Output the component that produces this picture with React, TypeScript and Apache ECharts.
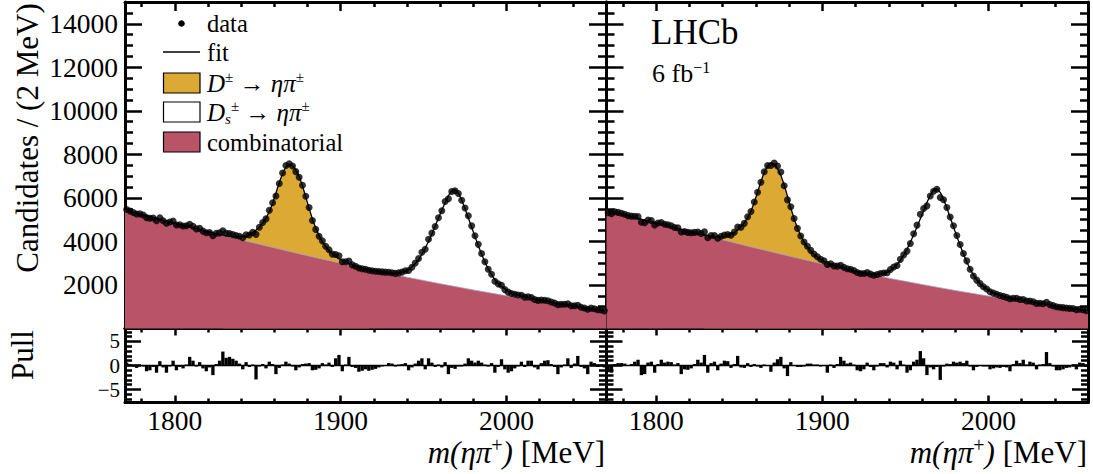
import React, { useEffect, useRef } from "react";
import * as echarts from "echarts";

// ---------- binning / axis ranges ----------
const BIN_LO = 1770;
const BIN_W = 2;
const X_MIN = 1770;
const X_MAX = 2060;
const Y_MAX = 15000;
const PULL_LIM = 7.7;
const D_REGION = [1829, 1917];

// ---------- tick values ----------
const xMajorTicks = [1800, 1900, 2000];
const xMinorTicks = [1780, 1820, 1840, 1860, 1880, 1920, 1940, 1960, 1980, 2020, 2040];
const yMajorTicks = [2000, 4000, 6000, 8000, 10000, 12000, 14000];
const yMinorTicks = [500, 1000, 1500, 2500, 3000, 3500, 4500, 5000, 5500, 6500, 7000, 7500, 8500, 9000, 9500,
  10500, 11000, 11500, 12500, 13000, 13500, 14500];
const pullMajorTicks = [-5, 0, 5];
const pullMinorTicks = [-7, -6, -4, -3, -2, -1, 1, 2, 3, 4, 6, 7];
const pullLabelsOuter = [-5, 5];
const pullLabelsZero = [0];

// ---------- combinatorial background (10 MeV grid) ----------
const bgMass = [1770, 1780, 1790, 1800, 1810, 1820, 1830, 1840, 1850, 1860, 1870, 1880, 1890, 1900, 1910,
  1920, 1930, 1940, 1950, 1960, 1970, 1980, 1990, 2000, 2010, 2020, 2030, 2040, 2050, 2060];
const bgLeft = [5440, 5240, 5040, 4845, 4650, 4455, 4262, 4075, 3890, 3705, 3524, 3346, 3172, 3002, 2836,
  2673, 2514, 2359, 2207, 2059, 1914, 1774, 1637, 1503, 1374, 1248, 1125, 1006, 891, 780];
const bgRight = [5440, 5240, 5040, 4845, 4650, 4455, 4262, 4072, 3884, 3695, 3510, 3328, 3148, 2970, 2796,
  2627, 2466, 2313, 2166, 2024, 1885, 1750, 1618, 1490, 1365, 1243, 1123, 1006, 891, 780];

// ---------- left panel (2 MeV bins, 1770-2060) ----------
const fitLeft = [
  5420, 5380, 5340, 5300, 5260, 5220, 5180, 5140, 5100, 5060,
  5020, 4982, 4943, 4904, 4865, 4826, 4787, 4748, 4709, 4670,
  4630, 4592, 4553, 4514, 4475, 4436, 4397, 4358, 4328, 4296,
  4268, 4243, 4223, 4211, 4209, 4224, 4257, 4315, 4403, 4520,
  4669, 4852, 5079, 5370, 5758, 6227, 6706, 7124, 7418, 7537,
  7481, 7291, 6985, 6560, 6044, 5519, 5029, 4614, 4274, 3994,
  3767, 3584, 3435, 3313, 3214, 3131, 3058, 2996, 2940, 2890,
  2845, 2803, 2764, 2731, 2697, 2667, 2638, 2611, 2584, 2560,
  2543, 2537, 2546, 2575, 2624, 2714, 2834, 2983, 3163, 3412,
  3687, 4003, 4343, 4704, 5074, 5435, 5781, 6102, 6333, 6384,
  6220, 5902, 5504, 5076, 4648, 4220, 3803, 3411, 3053, 2736,
  2464, 2242, 2065, 1928, 1821, 1733, 1659, 1598, 1545, 1497,
  1453, 1416, 1383, 1351, 1321, 1292, 1264, 1236, 1210, 1183,
  1157, 1131, 1106, 1082, 1057, 1032, 1008, 984, 960, 936,
  913, 890, 867, 843, 821,
];
const dataLeft = [
  5464, 5402, 5325, 5264, 5267, 5213, 5094, 5068, 5079, 4953,
  5084, 4954, 4838, 4890, 4935, 4757, 4766, 4707, 4723, 4793,
  4698, 4578, 4600, 4474, 4395, 4409, 4264, 4378, 4394, 4486,
  4372, 4360, 4314, 4276, 4235, 4172, 4303, 4295, 4416, 4325,
  4655, 4873, 5036, 5429, 5781, 6085, 6665, 7141, 7487, 7572,
  7464, 7206, 6952, 6584, 6075, 5556, 4958, 4553, 4235, 4026,
  3779, 3620, 3417, 3399, 3339, 3064, 3069, 3094, 2924, 2863,
  2776, 2745, 2722, 2673, 2650, 2631, 2617, 2601, 2589, 2585,
  2563, 2532, 2556, 2590, 2650, 2662, 2813, 3005, 3219, 3500,
  3638, 4098, 4383, 4683, 5088, 5406, 5834, 5961, 6293, 6328,
  6204, 5894, 5534, 5183, 4716, 4259, 3865, 3446, 3064, 2726,
  2489, 2171, 2051, 1985, 1787, 1671, 1610, 1574, 1537, 1528,
  1442, 1454, 1420, 1336, 1292, 1310, 1300, 1275, 1220, 1173,
  1096, 1118, 1113, 1131, 1041, 1045, 1071, 975, 941, 881,
  937, 905, 858, 849, 810,
];
const pullLeft = [
  0.6, 0.3, -0.2, -0.5, 0.1, -0.1, -1.2, -1.0, -0.3, -1.5,
  0.9, -0.4, -1.5, -0.2, 1.0, -1.0, -0.3, -0.6, 0.2, 1.8,
  1.0, -0.2, 0.7, -0.6, -1.2, -0.4, -2.0, 0.3, 1.0, 2.9,
  1.6, 1.8, 1.4, 1.0, 0.4, -0.8, 0.7, -0.3, 0.2, -2.9,
  -0.2, 0.3, -0.6, 0.8, 0.3, -1.8, -0.5, 0.2, 0.8, 0.4,
  -0.2, -1.0, -0.4, 0.3, 0.4, 0.5, -1.0, -0.9, -0.6, 0.5,
  0.2, 0.6, -0.3, 1.5, 2.2, -1.2, 0.2, 1.8, -0.3, -0.5,
  -1.3, -1.1, -0.8, -1.1, -0.9, -0.7, -0.4, -0.2, 0.1, 0.5,
  0.4, -0.1, 0.2, 0.3, 0.5, -1.0, -0.4, 0.4, 1.0, 1.5,
  -0.8, 1.5, 0.6, -0.3, 0.2, -0.4, 0.7, -1.8, -0.5, -0.7,
  -0.2, -0.1, 0.4, 1.5, 1.0, 0.6, 1.0, 0.6, 0.2, -0.2,
  0.5, -1.5, -0.3, 1.3, -0.8, -1.5, -1.2, -0.6, -0.2, 0.8,
  -0.3, 1.0, 1.0, -0.4, -0.8, 0.5, 1.0, 1.1, 0.3, -0.3,
  -1.8, -0.4, 0.2, 1.5, -0.5, 0.4, 2.0, -0.3, -0.6, -1.8,
  0.8, 0.5, -0.3, 0.2, -0.4,
];

// ---------- right panel ----------
const fitRight = [
  5420, 5380, 5340, 5300, 5260, 5220, 5180, 5140, 5100, 5060,
  5020, 4982, 4943, 4904, 4865, 4826, 4787, 4748, 4709, 4670,
  4630, 4592, 4553, 4514, 4475, 4436, 4397, 4358, 4328, 4296,
  4268, 4242, 4222, 4211, 4208, 4224, 4258, 4318, 4407, 4526,
  4679, 4865, 5097, 5393, 5789, 6268, 6756, 7182, 7482, 7603,
  7547, 7352, 7040, 6606, 6080, 5544, 5044, 4620, 4273, 3987,
  3754, 3566, 3414, 3288, 3187, 3101, 3025, 2962, 2903, 2851,
  2804, 2761, 2721, 2687, 2652, 2621, 2591, 2564, 2536, 2512,
  2495, 2490, 2499, 2528, 2578, 2669, 2790, 2940, 3121, 3371,
  3647, 3964, 4305, 4667, 5038, 5400, 5787, 6115, 6367, 6421,
  6256, 5934, 5532, 5099, 4666, 4233, 3811, 3415, 3053, 2732,
  2459, 2235, 2056, 1919, 1812, 1721, 1648, 1588, 1536, 1488,
  1445, 1409, 1377, 1346, 1316, 1288, 1260, 1233, 1208, 1181,
  1156, 1131, 1106, 1082, 1057, 1032, 1008, 984, 960, 936,
  913, 890, 867, 843, 821,
];
const dataRight = [
  5317, 5270, 5362, 5336, 5296, 5249, 5187, 5162, 5157, 5145,
  4878, 4855, 4985, 4960, 4760, 4847, 4870, 4789, 4764, 4718,
  4644, 4626, 4432, 4460, 4415, 4396, 4417, 4437, 4367, 4440,
  4170, 4275, 4274, 4146, 4234, 4289, 4317, 4285, 4427, 4661,
  4652, 4830, 5133, 5371, 5812, 6260, 6715, 7199, 7491, 7490,
  7599, 7463, 7191, 6557, 5908, 5596, 5051, 4600, 4253, 3974,
  3779, 3590, 3426, 3299, 3181, 3107, 2943, 2973, 2876, 2867,
  2899, 2814, 2742, 2718, 2662, 2570, 2530, 2524, 2566, 2497,
  2445, 2480, 2524, 2553, 2558, 2710, 2822, 2897, 3177, 3383,
  3556, 3901, 4357, 4749, 5251, 5510, 5635, 6084, 6303, 6397,
  6019, 5919, 5562, 5120, 4721, 4272, 3860, 3444, 3108, 2722,
  2409, 2221, 2061, 1915, 1812, 1688, 1624, 1572, 1516, 1476,
  1430, 1364, 1388, 1383, 1334, 1331, 1267, 1261, 1229, 1154,
  1163, 1141, 1199, 1098, 1050, 1000, 976, 959, 945, 924,
  919, 866, 885, 858, 812,
];
const pullRight = [
  -1.4, -1.5, 0.3, 0.5, 0.5, 0.4, 0.1, 0.3, 0.8, 1.2,
  -2.0, -1.8, 0.6, 0.8, -1.5, 0.3, 1.2, 0.6, 0.8, 0.7,
  0.2, 0.5, -1.8, -0.8, -0.9, -0.6, 0.3, 1.2, 0.6, 2.2,
  -1.5, 0.5, 0.8, -1.0, 0.4, 1.0, 0.9, -0.5, 0.3, 2.0,
  -0.4, -0.5, 0.5, -0.3, 0.3, -0.1, -0.5, 0.2, 0.1, -1.3,
  0.6, 1.3, 1.8, -0.6, -2.2, 0.7, 0.1, -0.3, -0.3, -0.2,
  0.4, 0.4, 0.2, 0.2, -0.1, 0.1, -1.5, 0.2, -0.5, 0.3,
  1.8, 1.0, 0.4, 0.6, 0.2, -1.0, -1.2, -0.8, 0.6, -0.3,
  -1.0, -0.2, 0.5, 0.5, -0.4, 0.8, 0.6, -0.8, 1.0, 0.2,
  -1.5, -1.0, 0.8, 1.2, 3.0, 1.5, -2.0, -0.4, -0.8, -0.3,
  -3.0, -0.2, 0.4, 0.3, 0.8, 0.6, 0.8, 0.5, 1.0, -0.2,
  -1.0, -0.3, 0.1, -0.1, 0.0, -0.8, -0.6, -0.4, -0.5, -0.3,
  -0.4, -1.2, 0.3, 1.0, 0.5, 1.2, 0.2, 0.8, 0.6, -0.8,
  0.2, 0.3, 2.8, 0.5, -0.2, -1.0, -1.0, -0.8, -0.5, -0.4,
  0.2, -0.8, 0.6, 0.5, -0.3,
];

// ---------- styling ----------
const FONT = "'Liberation Serif', 'Times New Roman', 'DejaVu Serif', serif";
const YELLOW = "#dba934";
const RED = "#b95368";
const LINE_W = 3;
const TICK_W = 2.5;

const minus = (v: number) => (v < 0 ? "\u2212" + Math.abs(v) : String(v));

function xAx(grid: number, position: string, ticks: number[], len: number, line: boolean, labels?: number[]): any {
  return {
    type: "value", gridIndex: grid, position, min: X_MIN, max: X_MAX,
    axisLine: { show: line, onZero: false, lineStyle: { color: "#000", width: LINE_W } },
    axisTick: { show: true, inside: true, length: len, customValues: ticks, lineStyle: { color: "#000", width: TICK_W } },
    axisLabel: labels
      ? { show: true, customValues: labels, showMinLabel: true, showMaxLabel: true, hideOverlap: false,
          formatter: (v: number) => String(v), color: "#000", fontFamily: FONT, fontSize: 27.5, margin: 4 }
      : { show: false },
    splitLine: { show: false },
  };
}

function yAx(grid: number, position: string, min: number, max: number, ticks: number[], len: number, line: boolean,
  labels?: number[], margin = 7, fontSize = 27.5): any {
  return {
    type: "value", gridIndex: grid, position, min, max,
    axisLine: { show: line, onZero: false, lineStyle: { color: "#000", width: LINE_W } },
    axisTick: { show: true, inside: true, length: len, customValues: ticks, lineStyle: { color: "#000", width: TICK_W } },
    axisLabel: labels
      ? { show: true, customValues: labels, showMinLabel: true, showMaxLabel: true, hideOverlap: false,
          formatter: minus, color: "#000", fontFamily: FONT, fontSize, lineHeight: Math.min(fontSize, 20), margin }
      : { show: false },
    splitLine: { show: false },
  };
}

function buildOption() {
  const grids = [
    { left: 125, top: 2, width: 481, height: 326.5 },
    { left: 125, top: 328.5, width: 481, height: 74 },
    { left: 606.5, top: 2, width: 481.5, height: 326.5 },
    { left: 606.5, top: 328.5, width: 481.5, height: 74 },
  ].map((g) => ({ ...g, containLabel: false, outerBoundsMode: "none", show: false }));

  const xAxes: any[] = [];
  const yAxes: any[] = [];
  const series: any[] = [];
  const panels = [
    { fit: fitLeft, data: dataLeft, pull: pullLeft, bg: bgLeft },
    { fit: fitRight, data: dataRight, pull: pullRight, bg: bgRight },
  ];

  panels.forEach((pn, p) => {
    const gm = 2 * p;
    const gp = 2 * p + 1;
    const first = p === 0;
    const mainX = xAxes.length;
    xAxes.push(xAx(gm, "bottom", xMajorTicks, 9, true));
    xAxes.push(xAx(gm, "bottom", xMinorTicks, 5, false));
    xAxes.push(xAx(gm, "top", xMajorTicks, 9, true));
    xAxes.push(xAx(gm, "top", xMinorTicks, 5, false));
    const mainY = yAxes.length;
    yAxes.push(yAx(gm, "left", 0, Y_MAX, yMajorTicks, 17, true, first ? yMajorTicks : undefined, 7));
    yAxes.push(yAx(gm, "left", 0, Y_MAX, yMinorTicks, 8, false));
    yAxes.push(yAx(gm, "right", 0, Y_MAX, yMajorTicks, 17, true));
    yAxes.push(yAx(gm, "right", 0, Y_MAX, yMinorTicks, 8, false));
    const pullX = xAxes.length;
    xAxes.push(xAx(gp, "bottom", xMajorTicks, 7, true, xMajorTicks));
    xAxes.push(xAx(gp, "bottom", xMinorTicks, 4, false));
    xAxes.push(xAx(gp, "top", xMajorTicks, 7, true));
    xAxes.push(xAx(gp, "top", xMinorTicks, 4, false));
    const pullY = yAxes.length;
    yAxes.push(yAx(gp, "left", -PULL_LIM, PULL_LIM, pullMajorTicks, 16, true, first ? pullLabelsZero : undefined, 5, 21));
    yAxes.push(yAx(gp, "left", -PULL_LIM, PULL_LIM, pullMinorTicks, 7, false, first ? pullLabelsOuter : undefined, 5, 21));
    yAxes.push(yAx(gp, "right", -PULL_LIM, PULL_LIM, pullMajorTicks, 16, true));
    yAxes.push(yAx(gp, "right", -PULL_LIM, PULL_LIM, pullMinorTicks, 7, false));

    const centres = pn.fit.map((_, i) => BIN_LO + BIN_W * (i + 0.5));
    const fitPts = centres.map((x, i) => [x, pn.fit[i]]);

    series.push({
      type: "line", xAxisIndex: mainX, yAxisIndex: mainY, silent: true, z: 1,
      data: fitPts.filter(([x]) => x >= D_REGION[0] && x <= D_REGION[1]),
      symbol: "none", lineStyle: { width: 0, color: YELLOW }, areaStyle: { color: YELLOW, opacity: 1 },
    });
    series.push({
      type: "line", xAxisIndex: mainX, yAxisIndex: mainY, silent: true, z: 2,
      data: bgMass.map((m, i) => [m, pn.bg[i]]),
      symbol: "none", lineStyle: { width: 0.8, color: "#a4a4c4" }, areaStyle: { color: RED, opacity: 1 },
    });
    series.push({
      type: "line", xAxisIndex: mainX, yAxisIndex: mainY, silent: true, z: 3,
      data: fitPts, symbol: "none", lineStyle: { width: 1.3, color: "#000" },
    });
    series.push({
      type: "scatter", xAxisIndex: mainX, yAxisIndex: mainY, silent: true, z: 4,
      data: centres.map((x, i) => [x, pn.data[i]]),
      symbol: "circle", symbolSize: 7, itemStyle: { color: "#000" },
    });
    series.push({
      type: "line", xAxisIndex: pullX, yAxisIndex: pullY, silent: true, z: 2,
      data: [[X_MIN, 0], [X_MAX, 0]], symbol: "none", lineStyle: { width: 1.5, color: "#000" },
    });
    series.push({
      type: "custom", xAxisIndex: pullX, yAxisIndex: pullY, silent: true, z: 3,
      data: centres.map((x, i) => [x, pn.pull[i]]),
      renderItem: (params: any, api: any) => {
        const x = api.value(0);
        const v = api.value(1);
        const a = api.coord([x - BIN_W / 2, 0]);
        const b = api.coord([x + BIN_W / 2, v]);
        return {
          type: "rect",
          shape: { x: a[0], y: Math.min(a[1], b[1]), width: b[0] - a[0], height: Math.max(Math.abs(b[1] - a[1]), 1) },
          style: { fill: "#000" },
        };
      },
    });
  });

  const base = { fontFamily: FONT, fill: "#000" };
  const legRich = {
    n: { fontFamily: FONT, fontSize: 25, lineHeight: 28, fill: "#000" },
    i: { fontFamily: FONT, fontSize: 25, lineHeight: 28, fontStyle: "italic", fill: "#000" },
    sup: { fontFamily: FONT, fontSize: 15, lineHeight: 15, verticalAlign: "top", fill: "#000" },
    sub: { fontFamily: FONT, fontSize: 15, lineHeight: 15, verticalAlign: "bottom", fontStyle: "italic", fill: "#000" },
  };
  const titleRich = {
    n: { fontFamily: FONT, fontSize: 31, lineHeight: 34, fill: "#000" },
    i: { fontFamily: FONT, fontSize: 31, lineHeight: 34, fontStyle: "italic", fill: "#000" },
    sup: { fontFamily: FONT, fontSize: 20, lineHeight: 20, verticalAlign: "top", fill: "#000" },
  };
  const xTitle = "{i|m(\u03b7\u03c0}{sup|+}{i|)}{n| [MeV]}";

  const graphic: any[] = [
    { type: "text", x: 27, y: 138, rotation: Math.PI / 2,
      style: { ...base, text: "Candidates / (2 MeV)", fontSize: 31, align: "center", verticalAlign: "middle" } },
    { type: "text", x: 22, y: 355, rotation: Math.PI / 2,
      style: { ...base, text: "Pull", fontSize: 31, align: "center", verticalAlign: "middle" } },
    { type: "text", x: 605, y: 452, style: { ...base, text: xTitle, rich: titleRich, align: "right", verticalAlign: "middle" } },
    { type: "text", x: 1087, y: 452, style: { ...base, text: xTitle, rich: titleRich, align: "right", verticalAlign: "middle" } },
    { type: "text", x: 651, y: 32, style: { ...base, text: "LHCb", fontSize: 35, align: "left", verticalAlign: "middle" } },
    { type: "text", x: 652, y: 73,
      style: { ...base, text: "{n|6 fb}{sup|\u22121}", align: "left", verticalAlign: "middle",
        rich: { n: { fontFamily: FONT, fontSize: 26, lineHeight: 28, fill: "#000" },
                sup: { fontFamily: FONT, fontSize: 16, lineHeight: 16, verticalAlign: "top", fill: "#000" } } } },
    { type: "circle", shape: { cx: 181.5, cy: 23.5, r: 3.3 }, style: { fill: "#000" } },
    { type: "text", x: 207, y: 23.5, style: { ...base, text: "data", fontSize: 24.5, align: "left", verticalAlign: "middle" } },
    { type: "line", shape: { x1: 163, y1: 52, x2: 200, y2: 52 }, style: { stroke: "#000", lineWidth: 1.3 } },
    { type: "text", x: 207, y: 52, style: { ...base, text: "fit", fontSize: 24.5, align: "left", verticalAlign: "middle" } },
    { type: "rect", shape: { x: 163.5, y: 73, width: 36.5, height: 20 }, style: { fill: YELLOW, stroke: "#000", lineWidth: 1.2 } },
    { type: "text", x: 207, y: 83,
      style: { ...base, text: "{i|D}{sup|\u00b1}{n| \u2192 }{i|\u03b7\u03c0}{sup|\u00b1}", rich: legRich, align: "left", verticalAlign: "middle" } },
    { type: "rect", shape: { x: 163.5, y: 102, width: 36.5, height: 20 }, style: { fill: "#fff", stroke: "#000", lineWidth: 1.2 } },
    { type: "text", x: 207, y: 112,
      style: { ...base, text: "{i|D}{sub|s}{sup|\u00b1}{n| \u2192 }{i|\u03b7\u03c0}{sup|\u00b1}", rich: legRich, align: "left", verticalAlign: "middle" } },
    { type: "rect", shape: { x: 163.5, y: 132, width: 36.5, height: 20 }, style: { fill: RED, stroke: "#000", lineWidth: 1.2 } },
    { type: "text", x: 207, y: 142, style: { ...base, text: "combinatorial", fontSize: 24.5, align: "left", verticalAlign: "middle" } },
  ];

  return {
    animation: false,
    backgroundColor: "#fff",
    textStyle: { fontFamily: FONT },
    grid: grids,
    xAxis: xAxes,
    yAxis: yAxes,
    series,
    graphic,
  };
}

export default function App() {
  const ref = useRef<HTMLDivElement>(null);
  useEffect(() => {
    const chart = echarts.init(ref.current as HTMLDivElement, null, { renderer: "svg" });
    chart.setOption(buildOption() as any);
    return () => chart.dispose();
  }, []);
  return (
    <div
      ref={ref}
      style={{ position: "absolute", left: 0, top: 0, width: 1093, height: 474, background: "#fff" }}
    />
  );
}
